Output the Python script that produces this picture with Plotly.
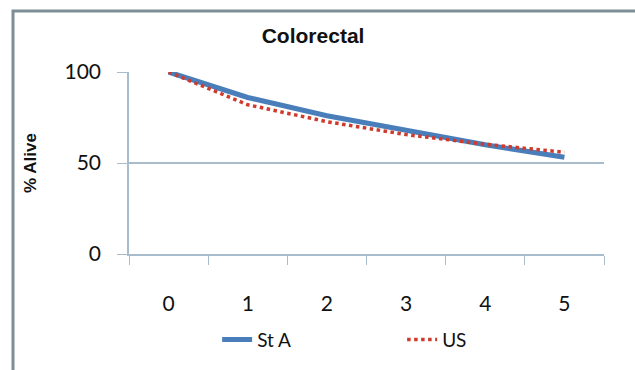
import plotly.graph_objects as go

years = ["0", "1", "2", "3", "4", "5"]
st_a = [100, 86, 76, 68.3, 60, 53.2]
us = [100, 82, 72.7, 65.6, 60.3, 55.9]
y_ticks = [0, 50, 100]

fig = go.Figure()
fig.add_trace(go.Scatter(x=years, y=st_a, name="St A", mode="lines",
                         line=dict(color="#4a7ebb", width=5)))
fig.add_trace(go.Scatter(x=years, y=us, name="US", mode="lines",
                         line=dict(color="#d03a2c", width=3.5, dash="dot")))

tickfont = dict(family="Lato, Open Sans, sans-serif", size=21, color="#111")
axcol = "#a9bccb"

fig.update_layout(
    width=635, height=370,
    margin=dict(l=129, r=31, t=72, b=110),
    paper_bgcolor="white", plot_bgcolor="white",
    title=dict(text="<b>Colorectal</b>", x=0.493, xanchor="center", y=0.905, yanchor="middle",
               font=dict(family="Liberation Sans, Arial, sans-serif", size=21, color="#111")),
    xaxis=dict(type="category", range=[-0.5, 5.5], tickson="boundaries", automargin=False,
               ticks="outside", ticklen=9, tickcolor=axcol, tickwidth=1.3,
               showline=True, linecolor=axcol, linewidth=1.5, showgrid=False,
               tickfont=tickfont, ticklabelstandoff=30),
    yaxis=dict(range=[0, 100], tickvals=y_ticks, ticks="outside", ticklen=10, automargin=False,
               tickcolor=axcol, tickwidth=1.3, showline=True, linecolor=axcol, linewidth=1.5,
               showgrid=True, gridcolor=axcol, gridwidth=1.5, zeroline=False,
               tickfont=tickfont, ticklabelstandoff=12,
               title=dict(text="<b>% Alive</b>", standoff=24,
                          font=dict(family="Liberation Sans, Arial, sans-serif", size=17, color="#111"))),
    showlegend=True,
    legend=dict(orientation="h", x=0.575, xanchor="center", y=-0.47, yanchor="middle",
                font=dict(family="Lato, Open Sans, sans-serif", size=19, color="#111"),
                bgcolor="rgba(0,0,0,0)", tracegroupgap=0, entrywidth=140, entrywidthmode="pixels"),
    shapes=[dict(type="rect", xref="paper", yref="paper",
                 x0=(13 - 129) / 475, x1=1.3, y0=-1.0, y1=(260 - 9) / 188,
                 line=dict(color="#7d8e95", width=3), fillcolor="rgba(0,0,0,0)", layer="below")],
)

fig.write_html("out.html")
